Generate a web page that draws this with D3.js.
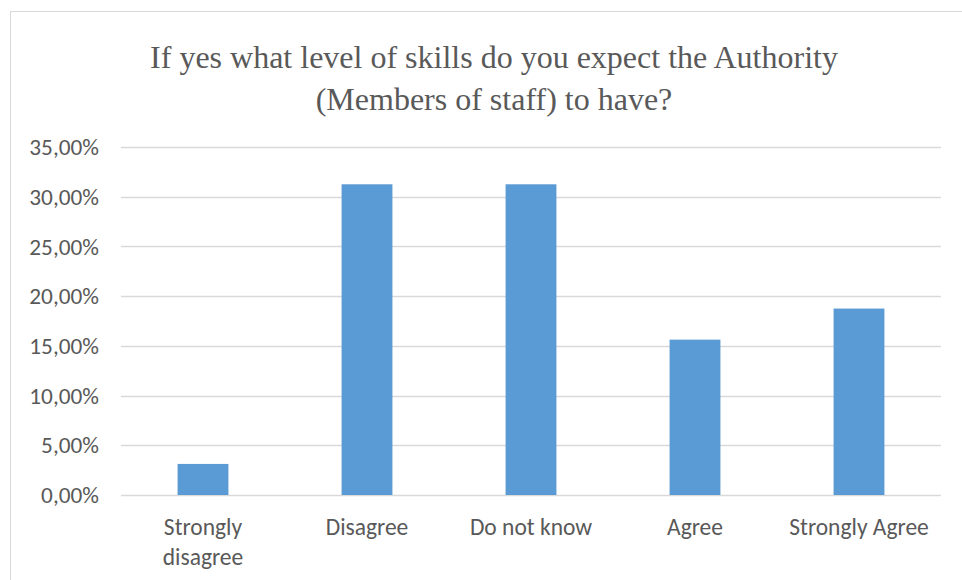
<!DOCTYPE html>
<html>
<head>
<meta charset="utf-8">
<script src="https://cdn.jsdelivr.net/npm/d3@7/dist/d3.min.js"></script>
<style>
  body { margin: 0; background: #fff; }
  svg { display: block; }
</style>
</head>
<body>
<div id="chart"></div>
<script>
chart_width = 962;
chart_height = 580;

// answers (32 respondents)
categories = [['Strongly', 'disagree'], ['Disagree'], ['Do not know'], ['Agree'], ['Strongly Agree']];
shares = [0.03125, 0.3125, 0.3125, 0.15625, 0.1875];
y_ticks = [0, 0.05, 0.10, 0.15, 0.20, 0.25, 0.30, 0.35];
title_lines = ['If yes what level of skills do you expect the Authority', '(Members of staff) to have?'];

plot = { left: 121, right: 941, top: 147, bottom: 495 };

svg = d3.select('#chart')
	.append('svg')
	.attr('width', chart_width)
	.attr('height', chart_height);

// outer chart frame
svg.append('rect')
	.attr('x', 10.5)
	.attr('y', 11.5)
	.attr('width', 1000)
	.attr('height', 1000)
	.attr('fill', 'none')
	.attr('stroke', '#d9d9d9')
	.attr('stroke-width', 1);

x_scale = d3.scaleBand()
	.domain(categories.map((d, i) => i))
	.range([plot.left, plot.right])
	.paddingInner(0.69)
	.paddingOuter(0.345);

y_scale = d3.scaleLinear()
	.domain([0, 0.35])
	.range([plot.bottom, plot.top]);

fmt = (v) => (v * 100).toFixed(2).replace('.', ',') + '%';

// gridlines
svg.append('g')
	.selectAll('line')
	.data(y_ticks)
	.enter()
	.append('line')
	.attr('x1', plot.left)
	.attr('x2', plot.right)
	.attr('y1', (d) => Math.round(y_scale(d)) + 0.5)
	.attr('y2', (d) => Math.round(y_scale(d)) + 0.5)
	.attr('stroke', '#d9d9d9')
	.attr('stroke-width', 1.5);

// y labels
svg.append('g')
	.selectAll('text')
	.data(y_ticks)
	.enter()
	.append('text')
	.attr('x', 99)
	.attr('y', (d) => y_scale(d))
	.attr('dy', '0.35em')
	.attr('text-anchor', 'end')
	.attr('font-family', 'Carlito, "Open Sans", sans-serif')
	.attr('font-size', 23.3)
	.attr('fill', '#595959')
	.text(fmt);

// bars
svg.append('g')
	.selectAll('rect')
	.data(shares)
	.enter()
	.append('rect')
	.attr('x', (d, i) => x_scale(i))
	.attr('width', x_scale.bandwidth())
	.attr('y', (d) => y_scale(d))
	.attr('height', (d) => y_scale(0) - y_scale(d))
	.attr('fill', '#5b9bd5');

// category labels
cat_labels = svg.append('g')
	.selectAll('text')
	.data(categories)
	.enter()
	.append('text')
	.attr('x', (d, i) => x_scale(i) + x_scale.bandwidth() / 2)
	.attr('y', 535)
	.attr('text-anchor', 'middle')
	.attr('font-family', 'Carlito, "Open Sans", sans-serif')
	.attr('font-size', 23.5)
	.attr('fill', '#595959');

cat_labels.selectAll('tspan')
	.data((d) => d)
	.enter()
	.append('tspan')
	.attr('x', function() { return d3.select(this.parentNode).attr('x'); })
	.attr('dy', (d, i) => i === 0 ? 0 : 30)
	.text((d) => d);

// title
svg.append('g')
	.selectAll('text')
	.data(title_lines)
	.enter()
	.append('text')
	.attr('x', 494)
	.attr('y', (d, i) => 68 + i * 42)
	.attr('text-anchor', 'middle')
	.attr('font-family', '"Liberation Serif", "Times New Roman", serif')
	.attr('font-size', 32)
	.attr('fill', '#595959')
	.text((d) => d);
</script>
</body>
</html>
